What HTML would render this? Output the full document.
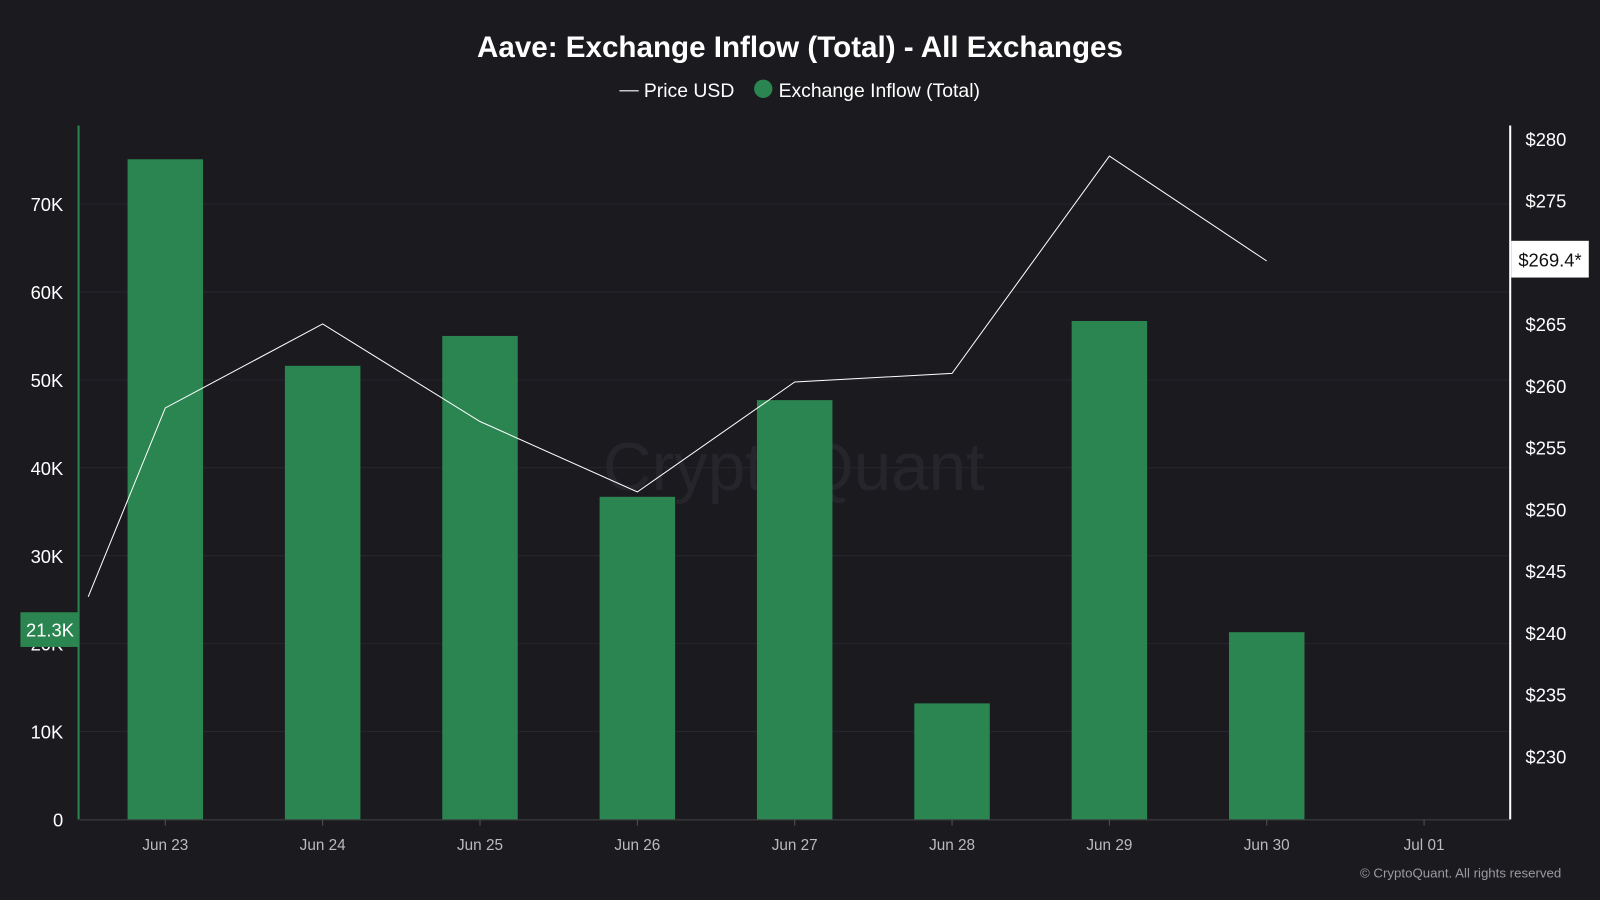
<!DOCTYPE html>
<html><head><meta charset="utf-8"><style>
html,body{margin:0;padding:0;background:#1b1a1f;width:1600px;height:900px;overflow:hidden}
svg{display:block;font-family:"Liberation Sans",sans-serif}
</style></head><body>
<svg id="c" width="1600" height="900" viewBox="0 0 1568 882">
<rect width="1568" height="882" fill="#1b1a1f"/>
<text x="784" y="56" text-anchor="middle" fill="#fff" font-size="29" font-weight="bold">Aave: Exchange Inflow (Total) - All Exchanges</text>
<g>
<g><line x1="607" y1="89" x2="626" y2="89" stroke="#fff" stroke-width="1"/><text x="631" y="95" fill="#fff" font-size="19">Price USD</text></g>
<g><circle cx="748" cy="87" r="9" fill="#2a8550"/><text x="763" y="95" fill="#fff" font-size="19">Exchange Inflow (Total)</text></g>
</g>
<text x="778" y="480" text-anchor="middle" fill="#26252b" font-size="66">CryptoQuant</text>
<g id="grid"></g><g id="bars"></g><g id="line"></g><g id="axes"></g>
<text x="1530" y="860" text-anchor="end" fill="#9a9aa0" font-size="13">© CryptoQuant. All rights reserved</text>
</svg>
<script>
const categories=["Jun 23","Jun 24","Jun 25","Jun 26","Jun 27","Jun 28","Jun 29","Jun 30","Jul 01"];
const inflow=[75.1,51.6,55.0,36.7,47.7,13.2,56.7,21.3];
const priceIdx=[-0.49,0,1,2,3,4,5,6,7];
const price=[242.9,258.2,265.0,257.1,251.4,260.3,261.0,278.6,270.1];
const leftTicks=[0,10,20,30,40,50,60,70];
const rightTicks=[230,235,240,245,250,255,260,265,270,275,280];
const NS="http://www.w3.org/2000/svg";
const xs=i=>162+i*154.2;
const yL=v=>803-v*8.614;
const yR=v=>136+(280-v)*12.1;
function mk(p,t,a){const e=document.createElementNS(NS,t);for(const k in a)e.setAttribute(k,a[k]);document.getElementById(p).appendChild(e);return e;}
leftTicks.forEach(t=>{
  if(t>0){const g=mk('grid','line',{x1:78,x2:1480,y1:yL(t*1000/1000),y2:yL(t),stroke:'#27262c','stroke-width':1});
  
  }
  const l=mk('axes','text',{x:62,y:yL(t)+7,'text-anchor':'end',fill:'#fff','font-size':18});
  l.textContent=t===0?'0':t+'K';
  
  
});
rightTicks.forEach(t=>{
  if(t===270)return;
  const l=mk('axes','text',{x:1495,y:yR(t)+7,fill:'#fff','font-size':18});
  l.textContent='$'+t;
  
  
});
inflow.forEach((v,i)=>{
  const b=mk('bars','rect',{x:xs(i)-37,y:yL(v),width:74,height:803-yL(v),fill:'#2a8550'});
  
  
});
const pl=mk('line','polyline',{points:price.map((p,i)=>xs(priceIdx[i])+','+yR(p)).join(' '),fill:'none',stroke:'#fff','stroke-width':1});


categories.forEach((c,i)=>{
  const tk=mk('axes','line',{x1:xs(i),x2:xs(i),y1:803,y2:809,stroke:'#555'});
  
  
  const l=mk('axes','text',{x:xs(i),y:833,'text-anchor':'middle',fill:'#bbb','font-size':15});
  l.textContent=c;
  
  
});
const xa=mk('axes','line',{x1:78,x2:1480,y1:803.5,y2:803.5,stroke:'#444'});


const la=mk('axes','line',{x1:77,x2:77,y1:123,y2:803,stroke:'#2a8550','stroke-width':2});


const ra=mk('axes','line',{x1:1480,x2:1480,y1:123,y2:803,stroke:'#fff','stroke-width':2});


const lb=mk('axes','rect',{x:20,y:600,width:58,height:34,fill:'#2a8550'});


const lt=mk('axes','text',{x:49,y:624,'text-anchor':'middle',fill:'#fff','font-size':18});
lt.textContent=inflow[inflow.length-1]+'K';


const rb=mk('axes','rect',{x:1481,y:236,width:76,height:36,fill:'#fff'});


const rt=mk('axes','text',{x:1519,y:261,'text-anchor':'middle',fill:'#111','font-size':18});
rt.textContent='$269.4*';


</script>
</body></html>
